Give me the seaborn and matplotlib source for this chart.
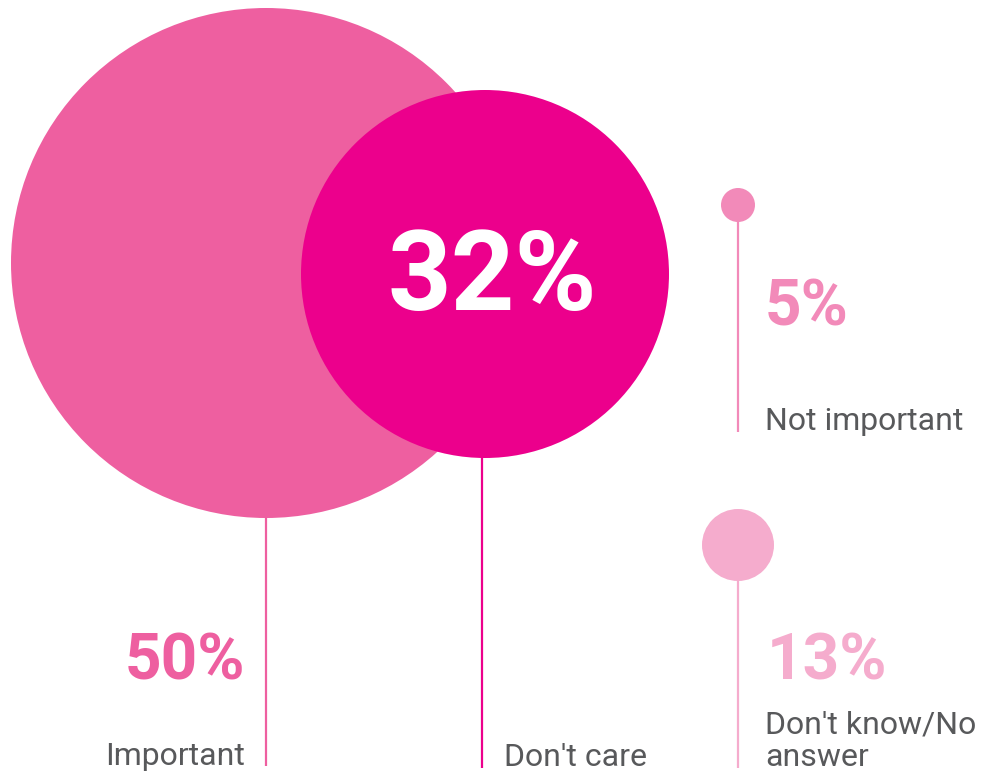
from textwrap import wrap

import matplotlib.pyplot as plt
import pandas as pd
import seaborn as sns

# Survey answers (share of respondents, %)
labels = ["Important", "Don't care", "Not important", "Don't know/No answer"]
percents = [50, 32, 5, 13]

# Layout (pixel-like units, y grows downward)
bubble_x = [266, 485, 738, 738]
bubble_y = [263, 274, 205, 545]
bubble_r = [255, 184, 17, 36]
stem_x = [266, 482, 738, 738]
stem_end = [766, 768, 432, 768]
colors = ["#EE5FA0", "#EC008C", "#F28AB9", "#F5ACCD"]

W, H, DPI = 982, 773, 100
TEXT_GREY = "#58595B"

sns.set_theme(style="white")
plt.rcParams["font.family"] = ["Roboto", "DejaVu Sans"]

df = pd.DataFrame(
    {"label": labels, "pct": percents, "x": bubble_x, "y": bubble_y, "r": bubble_r}
)

fig = plt.figure(figsize=(W / DPI, H / DPI), dpi=DPI)
ax = fig.add_axes([0, 0, 1, 1])
ax.set_xlim(0, W)
ax.set_ylim(H, 0)
ax.axis("off")

# Stems below each bubble
for x, y, y_end, c in zip(stem_x, bubble_y, stem_end, colors):
    ax.vlines(x, y, y_end, color=c, linewidth=1.6, zorder=1)

# Bubbles: marker size in points^2 from radius in pixels
size_map = {lab: (2 * r * 72 / DPI) ** 2 for lab, r in zip(labels, bubble_r)}
sns.scatterplot(
    data=df,
    x="x",
    y="y",
    hue="label",
    palette=dict(zip(labels, colors)),
    size="label",
    sizes=size_map,
    linewidth=0,
    alpha=1,
    legend=False,
    ax=ax,
    zorder=2,
)

# Big number inside the "Don't care" bubble
ax.text(
    492, 310, f"{percents[1]}%", color="white", fontsize=80, fontweight="bold",
    ha="center", va="baseline", zorder=3,
)

# Percent + label text
pct_pos = {0: (245, 680, "right"), 2: (765, 325, "left"), 3: (767, 680, "left")}
for i, (px, py, ha) in pct_pos.items():
    ax.text(px, py, f"{percents[i]}%", color=colors[i], fontsize=46,
            fontweight="bold", ha=ha, va="baseline")

# Baseline (of the last line) for each label
label_pos = {0: (245, 765, "right"), 1: (504, 766, "left"),
             2: (765, 430, "left"), 3: (765, 766, "left")}
for i, (lx, ly, ha) in label_pos.items():
    ax.text(lx, ly, "\n".join(wrap(labels[i], 13)), color=TEXT_GREY, fontsize=23,
            ha=ha, va="baseline", linespacing=1.15)

fig.savefig("out.png", dpi=DPI)
